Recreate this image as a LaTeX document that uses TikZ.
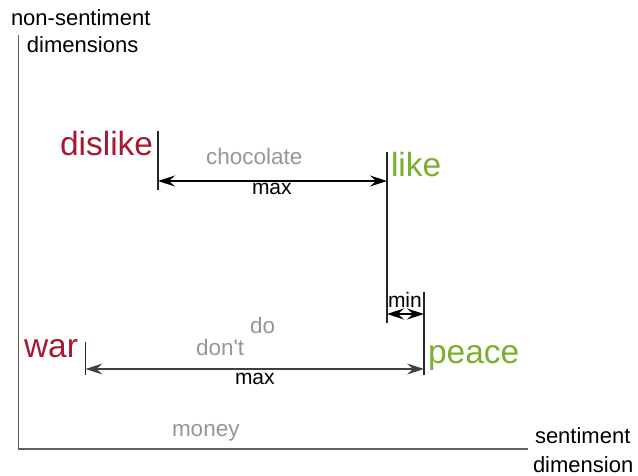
\documentclass[tikz,border=0pt]{standalone}
\usepackage{fontspec}
\setmainfont{Liberation Sans}
\newfontfamily\plainsans{Liberation Sans}
\usetikzlibrary{arrows.meta}
\definecolor{neg}{RGB}{166,25,50}
\definecolor{pos}{RGB}{122,176,48}
\definecolor{wgray}{RGB}{150,150,150}
\definecolor{axgray}{RGB}{95,95,95}
\begin{document}
\begin{tikzpicture}[x=1pt,y=-1pt,
  lbl/.style={anchor=base west,inner sep=0pt,outer sep=0pt},
  axislbl/.style={lbl,font=\fontsize{22}{26}\selectfont,text=black},
  word/.style={lbl,font=\fontsize{33.5}{40}\selectfont},
  fill word/.style={lbl,font=\plainsans\fontsize{22.5}{27}\selectfont,text=wgray},
  dimlbl/.style={lbl,font=\fontsize{21}{25}\selectfont,text=black},
  axisline/.style={draw=axgray,line width=1.5pt},
  tickline/.style={draw=black!85,line width=1.1pt},
  tip/.tip={Stealth[length=17pt,width=11pt,inset=6pt]},
  dimarrow/.style={line width=1.4pt,{tip}-{tip}}
]
\useasboundingbox (0,0) rectangle (638,476);
% axes
\coordinate (ytop) at (18.5,35);
\coordinate (origin) at (18.5,449);
\coordinate (xend) at (528,449);
\draw[axisline] (ytop) -- (origin) -- (xend);
\node[axislbl] (ylab1) at (11,26) {non-sentiment};
\node[axislbl] (ylab2) at (27,53) {dimensions};
\node[axislbl] (xlab1) at (535,443) {sentiment};
\node[axislbl] (xlab2) at (533,472) {dimension};
% words
\node[word,text=neg] (dislike) at (60,156) {dislike};
\node[word,text=pos] (like) at (391,177) {like};
\node[word,text=neg] (war) at (24,357) {war};
\node[word,text=pos] (peace) at (428,363) {peace};
\node[fill word] (chocolate) at (206,165) {chocolate};
\node[fill word] (do) at (250,334) {do};
\node[fill word] (dont) at (196,355) {don't};
\node[fill word] (money) at (172,436) {money};
% ticks
\coordinate (disT) at (158,131);
\coordinate (disB) at (158,190);
\coordinate (likeT) at (387,152);
\coordinate (likeB) at (387,323);
\coordinate (peaceT) at (424,292);
\coordinate (peaceB) at (424,375);
\coordinate (warT) at (85.5,342);
\coordinate (warB) at (85.5,375);
\draw[tickline] (disT) -- (disB);
\draw[tickline] (likeT) -- (likeB);
\draw[tickline] (peaceT) -- (peaceB);
\draw[tickline] (warT) -- (warB);
% dimension arrows
\coordinate (a1L) at (158,181);
\coordinate (a1R) at (387,181);
\coordinate (a2L) at (85.5,369);
\coordinate (a2R) at (424,369);
\coordinate (a3L) at (387,314);
\coordinate (a3R) at (424,314);
\draw[dimarrow,draw=black] (a1L) -- (a1R);
\draw[dimarrow,draw=black!75,fill=black] (a2L) -- (a2R);
\draw[dimarrow,draw=black] (a3L) -- (a3R);
\node[dimlbl] (max1) at (252,195) {max};
\node[dimlbl] (max2) at (235,384) {max};
\node[dimlbl] (min) at (388,308) {min};
\end{tikzpicture}
\end{document}
